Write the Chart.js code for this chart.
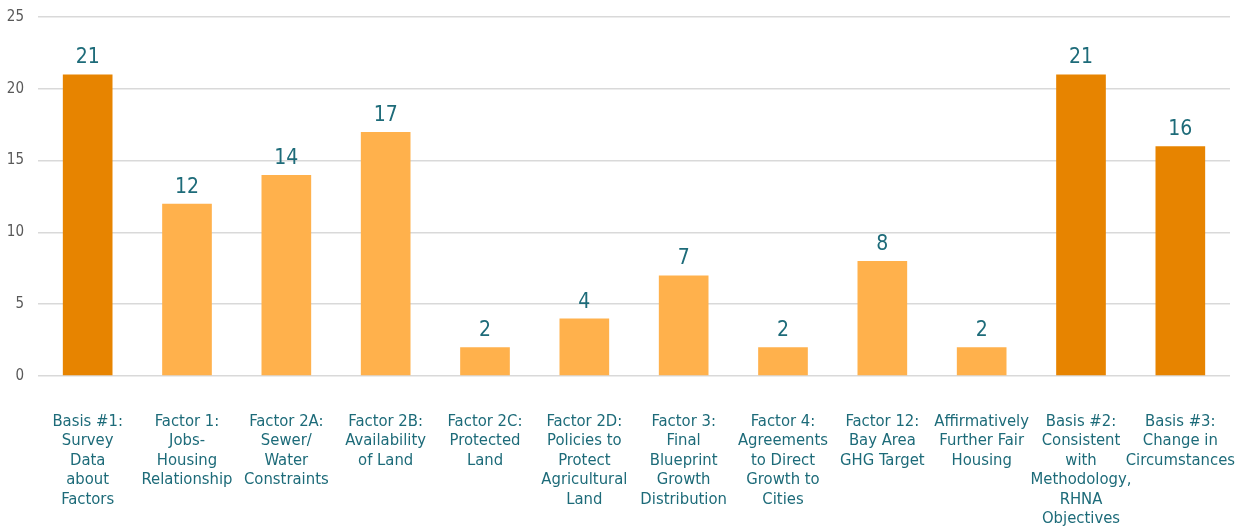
<!DOCTYPE html>
<html>
<head>
<meta charset="utf-8">
<script src="https://cdn.jsdelivr.net/npm/chart.js@4"></script>
<style>
html,body{margin:0;padding:0;background:#fff;}
#wrap{width:1241px;height:527px;position:relative;}
</style>
</head>
<body>
<div id="wrap"><canvas id="c" width="1241" height="527"></canvas></div>
<script>
const categories = [
  ["Basis #1:","Survey","Data","about","Factors"],
  ["Factor 1:","Jobs-","Housing","Relationship"],
  ["Factor 2A:","Sewer/","Water","Constraints"],
  ["Factor 2B:","Availability","of Land"],
  ["Factor 2C:","Protected","Land"],
  ["Factor 2D:","Policies to","Protect","Agricultural","Land"],
  ["Factor 3:","Final","Blueprint","Growth","Distribution"],
  ["Factor 4:","Agreements","to Direct","Growth to","Cities"],
  ["Factor 12:","Bay Area","GHG Target"],
  ["Affirmatively","Further Fair","Housing"],
  ["Basis #2:","Consistent","with","Methodology,","RHNA","Objectives"],
  ["Basis #3:","Change in","Circumstances"]
];
const counts = [21, 12, 14, 17, 2, 4, 7, 2, 8, 2, 21, 16];
const isBasis = [true, false, false, false, false, false, false, false, false, false, true, true];
const yTicks = [0, 5, 10, 15, 20, 25];

const DARK = '#E78400';
const LIGHT = '#FFB14C';
const TEAL = '#1D6B79';
const FONT = "'DejaVu Sans Condensed', 'Liberation Sans', sans-serif";

const valueLabels = {
  id: 'valueLabels',
  afterDatasetsDraw(chart) {
    const ctx = chart.ctx;
    const meta = chart.getDatasetMeta(0);
    ctx.save();
    ctx.fillStyle = TEAL;
    ctx.font = '21px ' + FONT;
    ctx.textAlign = 'center';
    ctx.textBaseline = 'bottom';
    meta.data.forEach((bar, i) => {
      ctx.fillText(String(counts[i]), bar.x, bar.y - 6);
    });
    ctx.restore();
  }
};

new Chart(document.getElementById('c'), {
  type: 'bar',
  data: {
    labels: categories,
    datasets: [{
      data: counts,
      backgroundColor: isBasis.map(b => b ? DARK : LIGHT),
      borderWidth: 0,
      barPercentage: 0.5,
      categoryPercentage: 1.0
    }]
  },
  options: {
    responsive: false,
    animation: false,
    layout: { padding: { top: 17, right: 11, left: 0, bottom: 0 } },
    plugins: { legend: { display: false }, tooltip: { enabled: false } },
    scales: {
      x: {
        grid: { display: false, drawTicks: false },
        border: { display: false },
        ticks: {
          color: TEAL,
          font: { family: FONT, size: 16.5, lineHeight: 1.18 },
          padding: 36,
          maxRotation: 0,
          autoSkip: false
        },
        afterFit(scale) { scale.height = 151; scale.paddingLeft = 0; scale.paddingRight = 0; }
      },
      y: {
        min: 0, max: 25,
        afterBuildTicks(scale) { scale.ticks = yTicks.map(v => ({ value: v })); },
        grid: { color: '#D9D9D9', lineWidth: 1.5, drawTicks: false },
        border: { display: false },
        ticks: {
          color: '#595959',
          font: { family: FONT, size: 15 },
          padding: 14
        },
        afterFit(scale) { scale.width = 38; scale.paddingTop = 0; scale.paddingBottom = 0; }
      }
    }
  },
  plugins: [valueLabels]
});
</script>
</body>
</html>
